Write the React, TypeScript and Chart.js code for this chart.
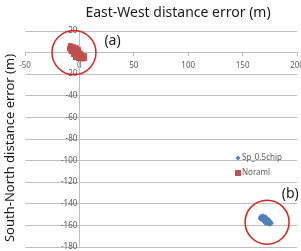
import React, { useEffect, useRef } from 'react';
import { Chart, registerables } from 'chart.js';

Chart.register(...registerables);

const seriesNames = ['Sp_0.5chip', 'Noraml'];
const seriesColors = ['#4F81BD', '#C0504D'];

// Sp_0.5chip cluster (b)
const spX = [167, 169, 171, 166.5, 168, 170, 172, 174, 168.5, 170, 172, 174, 175.5, 171, 173, 175, 169, 173, 171, 176];
const spY = [-152, -151.5, -152.5, -153.5, -153, -153.5, -154, -155, -155, -156, -156, -157, -157, -157.5, -158, -158.5, -154.5, -155.5, -155, -158];

// Noraml cluster (a)
const normalX = [-8.3, -5.5, -2.8, -9.2, -6.4, -3.7, -0.9, -7.4, -4.6, -1.8, 0.9, -5.5, -2.8, 0, 2.8, -0.9, 1.8, 4.6, 4.6, -3.7, -7, -4, -1, -6, -3, 0, 2, -2, 1, 3.5, -8, -5, -2, 3];
const normalY = [6.5, 5.5, 4.6, 3.7, 2.8, 1.8, 1.8, 0.9, 0, -0.9, -0.9, -1.8, -2.8, -3.7, -3.7, -5.5, -5.5, -5.5, -2.8, -4.6, 5, 3.5, 3, 1.5, 0.5, 0, -2, -1.5, -2.5, -4.5, 2, -0.5, -4, -6];

const xMin = -50;
const xMax = 200;
const xStep = 50;
const yMin = -180;
const yMax = 20;
const yStep = 20;

const xTitle = 'East-West distance error (m)';
const yTitle = 'South-North distance error (m)';

// highlighted regions (data units)
const circleX = [-5, 172.5];
const circleY = [0, -157];
const circleLabels = ['(a)', '(b)'];
const labelX = [23, 186];
const labelY = [11, -131];

const FONT = '"Noto Sans", "Open Sans", sans-serif';

const overlay = {
  id: 'overlay',
  afterDraw(chart: any) {
    const { ctx } = chart;
    const xs = chart.scales.x;
    const ys = chart.scales.y;
    ctx.save();
    // titles
    ctx.fillStyle = '#1a1a1a';
    ctx.font = `14px ${FONT}`;
    ctx.textAlign = 'center';
    ctx.textBaseline = 'middle';
    ctx.fillText(xTitle, 178, 13);
    ctx.save();
    ctx.font = `13px ${FONT}`;
    ctx.translate(10, 148);
    ctx.rotate(-Math.PI / 2);
    ctx.fillText(yTitle, 0, 0);
    ctx.restore();

    // circles
    ctx.strokeStyle = '#E0201C';
    ctx.lineWidth = 1.5;
    circleX.forEach((cx, i) => {
      ctx.beginPath();
      ctx.arc(xs.getPixelForValue(cx), ys.getPixelForValue(circleY[i]), 22, 0, Math.PI * 2);
      ctx.stroke();
    });

    // labels
    ctx.fillStyle = '#1a1a1a';
    ctx.textAlign = 'left';
    ctx.textBaseline = 'middle';
    ctx.font = `14px ${FONT}`;
    circleLabels.forEach((t, i) => {
      ctx.fillText(t, xs.getPixelForValue(labelX[i]), ys.getPixelForValue(labelY[i]));
    });

    // legend
    ctx.font = `8px ${FONT}`;
    const lx = 238;
    const ly = [158, 173];
    ctx.fillStyle = seriesColors[0];
    ctx.beginPath();
    ctx.moveTo(lx, ly[0] - 2.5);
    ctx.lineTo(lx + 2.5, ly[0]);
    ctx.lineTo(lx, ly[0] + 2.5);
    ctx.lineTo(lx - 2.5, ly[0]);
    ctx.closePath();
    ctx.fill();
    ctx.fillStyle = seriesColors[1];
    ctx.fillRect(lx - 3, ly[1] - 3, 6, 6);
    ctx.fillStyle = '#595959';
    ctx.fillText(seriesNames[0], lx + 4, ly[0]);
    ctx.fillText(seriesNames[1], lx + 4, ly[1]);
    ctx.restore();
  },
};

export default function App() {
  const ref = useRef<HTMLCanvasElement | null>(null);
  useEffect(() => {
    if (!ref.current) return;
    Chart.defaults.font.family = FONT;
    const chart = new Chart(ref.current, {
      type: 'scatter',
      data: {
        datasets: [
          {
            label: seriesNames[0],
            data: spX.map((v, i) => ({ x: v, y: spY[i] })),
            backgroundColor: seriesColors[0],
            borderColor: seriesColors[0],
            pointStyle: 'rectRot',
            pointRadius: 3,
            borderWidth: 0,
          },
          {
            label: seriesNames[1],
            data: normalX.map((v, i) => ({ x: v, y: normalY[i] })),
            backgroundColor: seriesColors[1],
            borderColor: seriesColors[1],
            pointStyle: 'rect',
            pointRadius: 3.5,
            borderWidth: 0,
          },
        ],
      },
      options: {
        responsive: false,
        animation: false,
        layout: { padding: { left: 25, right: 4, top: 31, bottom: 3 } },
        plugins: {
          legend: { display: false },
          tooltip: { enabled: false },
          title: { display: false },
        },
        scales: {
          x: {
            type: 'linear',
            position: { y: 0 } as any,
            min: xMin,
            max: xMax,
            afterFit: (s: any) => { s.paddingLeft = 0; s.paddingRight = 0; },
            ticks: { stepSize: xStep, color: '#595959', font: { size: 8 }, padding: 5, maxRotation: 0 },
            grid: { display: true, drawOnChartArea: false, drawTicks: true, tickLength: 3, color: '#BFBFBF' },
            border: { display: true, color: '#BFBFBF' },
          },
          y: {
            type: 'linear',
            position: { x: 0 } as any,
            min: yMin,
            max: yMax,
            afterFit: (s: any) => { s.paddingTop = 0; s.paddingBottom = 0; },
            ticks: { stepSize: yStep, color: '#595959', font: { size: 8 }, padding: 3, callback: (v: any) => `${v} ` },
            grid: { color: '#BFBFBF', drawTicks: false, tickLength: 0 },
            border: { display: true, color: '#BFBFBF' },
          },
        },
      },
      plugins: [overlay],
    });
    return () => chart.destroy();
  }, []);
  return (
    <div style={{ position: 'fixed', left: 0, top: 0, width: 301, height: 251, background: '#fff' }}>
      <canvas ref={ref} width={301} height={251} style={{ display: 'block' }} />
    </div>
  );
}
